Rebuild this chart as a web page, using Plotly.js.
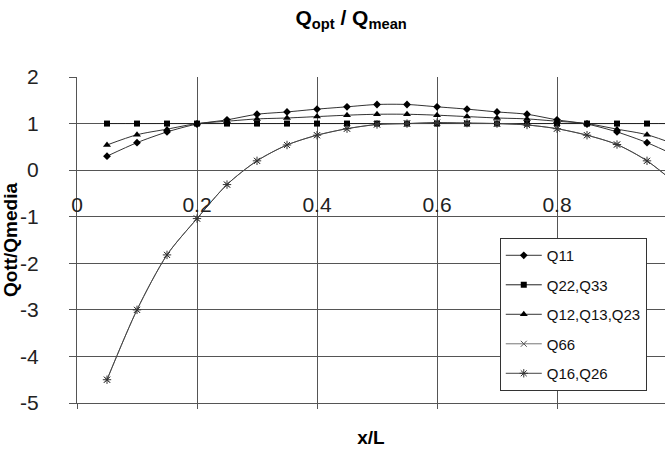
<!DOCTYPE html>
<html>
<head>
<meta charset="utf-8">
<script src="https://cdn.plot.ly/plotly-3.0.1.min.js"></script>
<style>html,body{margin:0;padding:0;background:#fff;}#chart{width:665px;height:453px;}</style>
</head>
<body>
<div id="chart"></div>
<script>
// x/L positions
var xPos = [0.05,0.10,0.15,0.20,0.25,0.30,0.35,0.40,0.45,0.50,0.55,0.60,0.65,0.70,0.75,0.80,0.85,0.90,0.95,1.00];
// Series values
var q11    = [0.30,0.59,0.82,0.99,1.08,1.20,1.25,1.31,1.36,1.41,1.41,1.36,1.31,1.25,1.20,1.08,0.99,0.82,0.59,0.30];
var q22q33 = [1.00,1.00,1.00,1.00,1.00,1.00,1.00,1.00,1.00,1.00,1.00,1.00,1.00,1.00,1.00,1.00,1.00,1.00,1.00,1.00];
var q12q13q23 = [0.54,0.76,0.88,1.00,1.05,1.10,1.12,1.15,1.18,1.20,1.20,1.18,1.15,1.12,1.10,1.05,1.00,0.88,0.76,0.54];
var q66    = [-4.50,-3.00,-1.82,-1.04,-0.31,0.20,0.54,0.75,0.89,0.98,1.00,1.02,1.01,1.00,0.97,0.89,0.75,0.55,0.20,-0.31];
var q16q26 = [-4.50,-3.00,-1.82,-1.04,-0.31,0.20,0.54,0.75,0.89,0.98,1.00,1.02,1.01,1.00,0.97,0.89,0.75,0.55,0.20,-0.31];
var seriesNames = ['Q11','Q22,Q33','Q12,Q13,Q23','Q66','Q16,Q26'];
var xTickVals = [0,0.2,0.4,0.6,0.8];
var xTickText = ['0','0.2','0.4','0.6','0.8'];
var yTickVals = [-5,-4,-3,-2,-1,0,1,2];
var yTickText = ['-5','-4','-3','-2','-1','0','1','2'];

var FONT = 'Liberation Sans, Arial, sans-serif';
function tr(name, y, sym, size, lineColor, mColor, lw, grp){
  return {
    x: xPos, y: y, name: name, type: 'scatter', mode: 'lines+markers',
    legendgroup: grp,
    line: {color: lineColor, width: 1, shape: 'spline', smoothing: 0.8},
    marker: {symbol: sym, size: size, color: mColor, line: {color: mColor, width: lw}}
  };
}
var data = [
  tr(seriesNames[0], q11, 'diamond', 6, '#333', '#000', 0, 'g1'),
  tr(seriesNames[1], q22q33, 'square', 6, '#222', '#000', 0, 'g2'),
  tr(seriesNames[2], q12q13q23, 'triangle-up', 7, '#333', '#000', 0, 'g3'),
  tr(seriesNames[3], q66, 'x-thin-open', 6, '#777', '#555', 1, 'g4'),
  tr(seriesNames[4], q16q26, 'asterisk-open', 7, '#444', '#333', 1, 'g5'),
  // empty helper trace so that the tick-label axis crossing at y=0 is drawn
  {x: [], y: [], xaxis: 'x2', yaxis: 'y', type: 'scatter', mode: 'markers', showlegend: false, hoverinfo: 'skip'}
];

var layout = {
  width: 665, height: 453,
  margin: {l: 77, r: 0, t: 77, b: 50, pad: 0},
  paper_bgcolor: '#fff', plot_bgcolor: '#fff',
  font: {family: FONT, color: '#000'},
  title: {text: '<b>Q<sub>opt</sub> / Q<sub>mean</sub></b>', font: {size: 21, family: FONT},
          x: 0.528, xanchor: 'center', y: 0.962, yanchor: 'middle', yref: 'container'},
  showlegend: true,
  legend: {x: 0.719, xanchor: 'left', y: 0.506, yanchor: 'top',
           bgcolor: '#fff', bordercolor: '#333', borderwidth: 1,
           font: {size: 15, family: FONT, color: '#111'},
           traceorder: 'grouped', tracegroupgap: 7, itemwidth: 36},
  xaxis: {
    range: [0, 0.98], tickvals: xTickVals, ticktext: xTickText,
    showticklabels: false, ticks: 'outside', ticklen: 5, tickcolor: '#555',
    showgrid: true, gridcolor: '#555', gridwidth: 1,
    showline: true, linecolor: '#555', linewidth: 1, zeroline: false,
    title: {text: '<b>x/L</b>', font: {size: 19, family: FONT}, standoff: 22}
  },
  xaxis2: {
    overlaying: 'x', anchor: 'free', position: 5/7, side: 'bottom',
    range: [0, 0.98], tickvals: xTickVals, ticktext: xTickText,
    showticklabels: true, ticks: '', showgrid: false, showline: false, zeroline: false,
    tickfont: {size: 21, family: FONT, color: '#222'}, ticklabelstandoff: 20
  },
  yaxis: {
    range: [-5, 2], tickvals: yTickVals, ticktext: yTickText,
    ticksuffix: '\u00a0',
    ticks: 'outside', ticklen: 7, tickcolor: '#555',
    tickfont: {size: 21, family: FONT, color: '#222'}, ticklabelstandoff: 26,
    showgrid: true, gridcolor: '#555', gridwidth: 1,
    showline: true, linecolor: '#555', linewidth: 1,
    zeroline: true, zerolinecolor: '#555', zerolinewidth: 1,
    title: {text: '<b>Qott/Qmedia</b>', font: {size: 19, family: FONT}, standoff: 2}
  }
};
Plotly.newPlot('chart', data, layout, {displayModeBar: false, staticPlot: true});
</script>
</body>
</html>
